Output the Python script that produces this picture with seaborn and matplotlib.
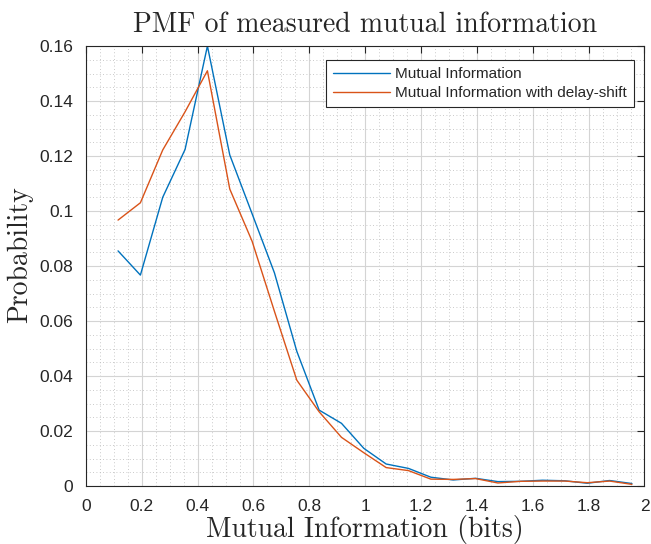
import numpy as np
import pandas as pd
import matplotlib
matplotlib.use("Agg")
import matplotlib.pyplot as plt
from matplotlib.ticker import MultipleLocator, FuncFormatter
import seaborn as sns

x_vals = [0.115, 0.195, 0.275, 0.355, 0.435, 0.515, 0.595, 0.675, 0.755, 0.835,
          0.915, 0.995, 1.075, 1.155, 1.235, 1.315, 1.395, 1.475, 1.555, 1.635,
          1.715, 1.795, 1.875, 1.955]
mi = [0.0855, 0.0767, 0.1050, 0.1224, 0.1600, 0.1204, 0.0990, 0.0775, 0.0490, 0.0276,
      0.0228, 0.0137, 0.0080, 0.0064, 0.0032, 0.0022, 0.0028, 0.0016, 0.0017, 0.0021,
      0.0019, 0.0010, 0.0020, 0.0009]
mi_shift = [0.0967, 0.1030, 0.1222, 0.1361, 0.1510, 0.1080, 0.0890, 0.0635, 0.0385, 0.0270,
            0.0177, 0.0121, 0.0067, 0.0056, 0.0025, 0.0024, 0.0027, 0.0011, 0.0017, 0.0018,
            0.0018, 0.0012, 0.0018, 0.0006]
series_names = ["Mutual Information", "Mutual Information with delay-shift"]
colors = ["#0072BD", "#D95319"]

df = pd.DataFrame({
    "x": x_vals * 2,
    "p": mi + mi_shift,
    "series": [series_names[0]] * len(x_vals) + [series_names[1]] * len(x_vals),
})

sns.set_style("white")
plt.rcParams["font.family"] = ["Liberation Sans", "DejaVu Sans"]
plt.rcParams["axes.formatter.use_mathtext"] = True

fig = plt.figure(figsize=(6.51, 5.44), dpi=100)
ax = fig.add_axes([0.132, 0.1066, 0.858, 0.8088])

sns.lineplot(data=df, x="x", y="p", hue="series", palette=colors, linewidth=1.0,
             ax=ax, legend=True)

ax.set_xlim(0, 2)
ax.set_ylim(0, 0.16)
ax.xaxis.set_major_locator(MultipleLocator(0.2))
ax.xaxis.set_minor_locator(MultipleLocator(0.05))
ax.yaxis.set_major_locator(MultipleLocator(0.02))
ax.yaxis.set_minor_locator(MultipleLocator(0.005))

def fmt(v, pos):
    s = f"{v:.2f}".rstrip("0").rstrip(".")
    return s
ax.xaxis.set_major_formatter(FuncFormatter(fmt))
ax.yaxis.set_major_formatter(FuncFormatter(fmt))

ax.grid(which="major", color="#d4d4d4", linewidth=0.8, linestyle="-")
ax.grid(which="minor", color="#b8b8b8", linewidth=0.6, linestyle=(0, (1, 3)))
ax.set_axisbelow(True)

ax.tick_params(which="both", direction="in", top=True, right=True,
               labelsize=12.5, colors="#262626")
ax.tick_params(which="major", length=5, width=0.8)
ax.tick_params(axis="y", which="major", pad=9)
ax.tick_params(axis="x", which="major", pad=9)
ax.tick_params(which="minor", length=0)
for s in ax.spines.values():
    s.set_color("#262626")
    s.set_linewidth(0.8)

ax.set_title("PMF of measured mutual information", fontfamily="cmr10",
             fontsize=20, pad=10)
ax.set_xlabel("Mutual Information (bits)", fontfamily="cmr10", fontsize=20,
              labelpad=1)
ax.set_ylabel("Probability", fontfamily="cmr10", fontsize=20)
ax.yaxis.set_label_coords(-0.094, 0.525)

leg = ax.legend(loc="upper right", bbox_to_anchor=(0.986, 0.975), fontsize=11,
                frameon=True, fancybox=False, edgecolor="#262626",
                handlelength=3.7, handletextpad=0.35, borderpad=0.45,
                labelspacing=0.35, borderaxespad=0.2)
leg.get_frame().set_linewidth(0.8)
leg.get_frame().set_facecolor("white")
leg.get_frame().set_alpha(1)

fig.savefig("out.png", dpi=100)
